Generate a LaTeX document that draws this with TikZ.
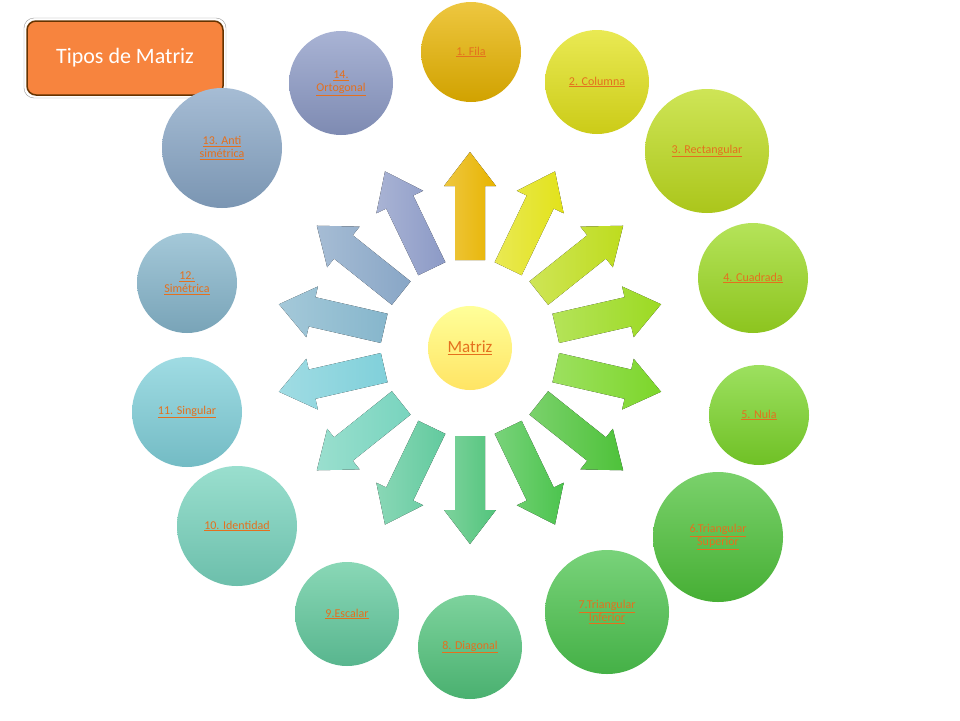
\documentclass[tikz,border=0pt]{standalone}
\usepackage{fontspec}
\setmainfont{Carlito}
\let\uline\underline
\definecolor{lbl}{HTML}{E4701E}
\definecolor{c1}{HTML}{E8B400}
\definecolor{c2}{HTML}{E2E21A}
\definecolor{c3}{HTML}{BEDC1E}
\definecolor{c4}{HTML}{9CDA22}
\definecolor{c5}{HTML}{7CD62A}
\definecolor{c6}{HTML}{4EC23A}
\definecolor{c7}{HTML}{4CC44E}
\definecolor{c8}{HTML}{52C47C}
\definecolor{c9}{HTML}{62CA9E}
\definecolor{c10}{HTML}{78D4BE}
\definecolor{c11}{HTML}{80D0DA}
\definecolor{c12}{HTML}{86B6CC}
\definecolor{c13}{HTML}{88A6C6}
\definecolor{c14}{HTML}{8C9AC6}
\tikzset{
 bub/.style={circle,minimum size=#1,inner sep=1pt,align=center,font=\fontsize{12}{13}\selectfont,text=lbl},
}
\newcommand{\bubble}[6]{% name,x,y,diam,color,text
 \node[bub=#4,top color=#5!75!white,bottom color=#5!90!black] (#1) at (#2,#3) {#6};}
\newcommand{\myarrow}[2]{% angle, color
 \begin{scope}[rotate=#1]
 \fill[left color=#2!75!white,right color=#2] (88,-15) -- (162,-15) -- (162,-26) -- (196,0) -- (162,26) -- (162,15) -- (88,15) -- cycle;
 \end{scope}}
\begin{document}
\begin{tikzpicture}[x=1pt,y=-1pt]
\useasboundingbox (0,0) rectangle (960,720);
\fill[white] (0,0) rectangle (960,720);
\node[draw=black!40,fill=white,rounded corners=10pt,minimum width=202pt,minimum height=80pt] (tb0) at (125,58) {};
\node[draw=black!60!orange,line width=1.5pt,fill={rgb,255:red,247;green,132;blue,62},rounded corners=9pt,minimum width=196pt,minimum height=74pt,text=white,font=\fontsize{22}{24}\selectfont] (title) at (125,58) {Tipos de Matriz};
\begin{scope}[shift={(470,348)},y=1pt]
\myarrow{90}{c1}
\myarrow{64.3}{c2}
\myarrow{38.6}{c3}
\myarrow{12.9}{c4}
\myarrow{-12.9}{c5}
\myarrow{-38.6}{c6}
\myarrow{-64.3}{c7}
\myarrow{-90}{c8}
\myarrow{-115.7}{c9}
\myarrow{-141.4}{c10}
\myarrow{-167.1}{c11}
\myarrow{167.1}{c12}
\myarrow{141.4}{c13}
\myarrow{115.7}{c14}
\end{scope}
\node[circle,minimum size=84pt,top color=yellow!40!white,bottom color={rgb,255:red,255;green,228;blue,100},text=lbl,font=\fontsize{17}{19}\selectfont] (m) at (470,348) {\uline{Matriz}};
\bubble{b1}{471}{52}{100}{c1}{\uline{1. Fila}}
\bubble{b2}{597}{82}{104}{c2}{\uline{2. Columna}}
\bubble{b3}{707}{151}{124}{c3}{\uline{3. Rectangular}}
\bubble{b4}{753}{278}{110}{c4}{\uline{4. Cuadrada}}
\bubble{b5}{759}{415}{100}{c5}{\uline{5. Nula}}
\bubble{b6}{718}{537}{130}{c6}{\uline{6.Triangular}\\\uline{Superior}}
\bubble{b7}{607}{612}{124}{c7}{\uline{7.Triangular}\\\uline{Inferior}}
\bubble{b8}{470}{647}{104}{c8}{\uline{8. Diagonal}}
\bubble{b9}{347}{614}{104}{c9}{\uline{9.Escalar}}
\bubble{b10}{237}{526}{120}{c10}{\uline{10. Identidad}}
\bubble{b11}{187}{412}{110}{c11}{\uline{11. Singular}}
\bubble{b12}{187}{283}{100}{c12}{\uline{12.}\\\uline{Simétrica}}
\bubble{b13}{222}{148}{120}{c13}{\uline{13. Anti}\\\uline{simétrica}}
\bubble{b14}{341}{83}{104}{c14}{\uline{14.}\\\uline{Ortogonal}}
\end{tikzpicture}
\end{document}
